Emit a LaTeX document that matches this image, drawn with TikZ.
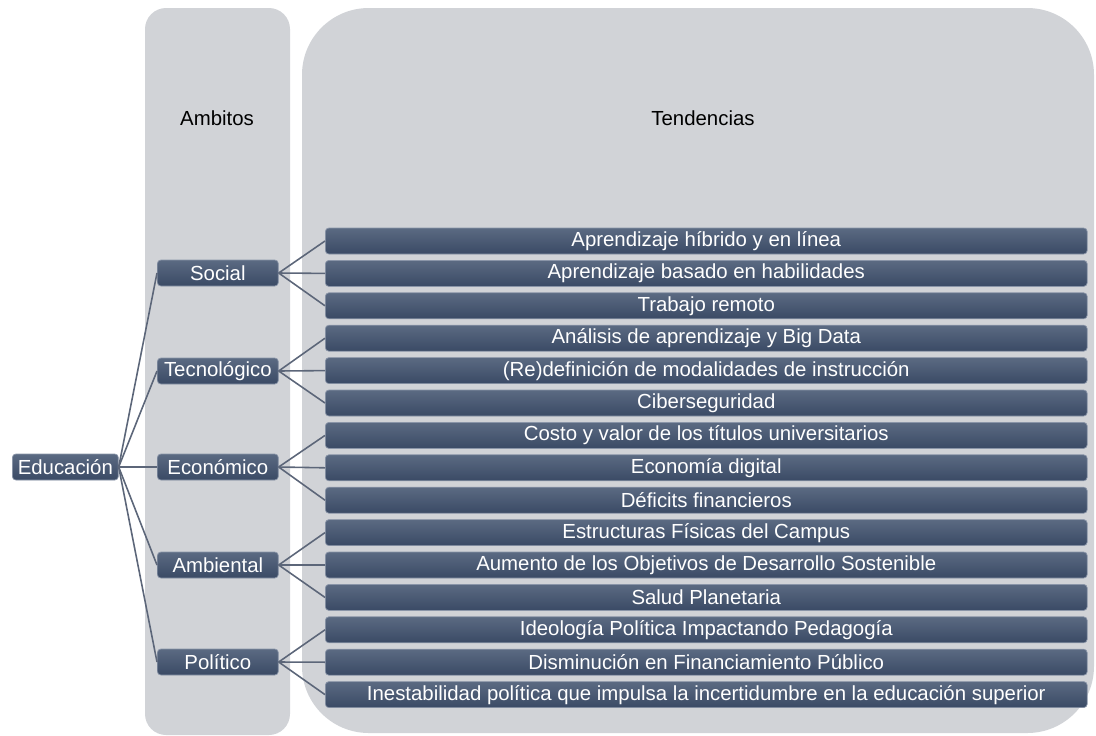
\documentclass[tikz,border=0pt]{standalone}
\usepackage{fontspec}
\setmainfont{Liberation Sans}
\usepackage{xcolor}
\usepackage{tikz}
\usetikzlibrary{positioning}

\begin{document}
\begin{tikzpicture}[
  x=0.02cm, y=-0.02cm,
  font=\fontsize{11.6}{13}\selectfont,
  panel/.style={
    fill=panelgray,
    draw=none
  },
  darkbox/.style={
    draw=barline,
    line width=0.4pt,
    top color=bartop,
    bottom color=barbot,
    text=white,
    rounded corners=2pt,
    minimum height=0.52cm,
    inner sep=1pt,
    anchor=west
  },
  ambitobox/.style={darkbox, minimum width=2.42cm},
  trendbox/.style={darkbox, minimum width=15.24cm},
  link/.style={draw=linkgray, line width=0.9pt},
  heading/.style={text=black}
]
\definecolor{panelgray}{HTML}{D1D3D7}
\definecolor{bartop}{HTML}{5B6A82}
\definecolor{barbot}{HTML}{3A4A65}
\definecolor{barline}{HTML}{8A95A8}
\definecolor{linkgray}{HTML}{5C6679}

\useasboundingbox (0,0) rectangle (1096,735);

% background panels
\fill[panel, rounded corners=12pt] (145,8) rectangle (290,735);
\fill[panel, rounded corners=38pt] (302,8) rectangle (1094,733);

\node[heading] (ambitos) at (217,118) {Ambitos};
\node[heading] (tendencias) at (703,118) {Tendencias};

% root
\node[darkbox, minimum width=2.12cm] (edu) at (12,467) {Educación};

% ambitos
\node[ambitobox] (social) at (157,273) {Social};
\node[ambitobox] (tecno) at (157,371) {Tecnológico};
\node[ambitobox] (econ) at (157,467) {Económico};
\node[ambitobox] (amb) at (157,565) {Ambiental};
\node[ambitobox] (pol) at (157,662) {Político};

% tendencias
\foreach \i/\txt in {
  1/Aprendizaje híbrido y en línea,
  2/Aprendizaje basado en habilidades,
  3/Trabajo remoto,
  4/Análisis de aprendizaje y Big Data,
  5/(Re)definición de modalidades de instrucción,
  6/Ciberseguridad,
  7/Costo y valor de los títulos universitarios,
  8/Economía digital,
  9/Déficits financieros,
  10/Estructuras Físicas del Campus,
  11/Aumento de los Objetivos de Desarrollo Sostenible,
  12/Salud Planetaria,
  13/Ideología Política Impactando Pedagogía,
  14/Disminución en Financiamiento Público,
  15/Inestabilidad política que impulsa la incertidumbre en la educación superior}
  \node[trendbox] (t\i) at (325,{241+32.4*(\i-1)}) {\txt};

\foreach \a in {social,tecno,econ,amb,pol}
  \draw[link] (edu.east) -- (\a.west);

\foreach \a/\x/\y/\z in {social/1/2/3, tecno/4/5/6, econ/7/8/9, amb/10/11/12, pol/13/14/15}
  \foreach \t in {\x,\y,\z}
    \draw[link] (\a.east) -- (t\t.west);
\end{tikzpicture}
\end{document}
